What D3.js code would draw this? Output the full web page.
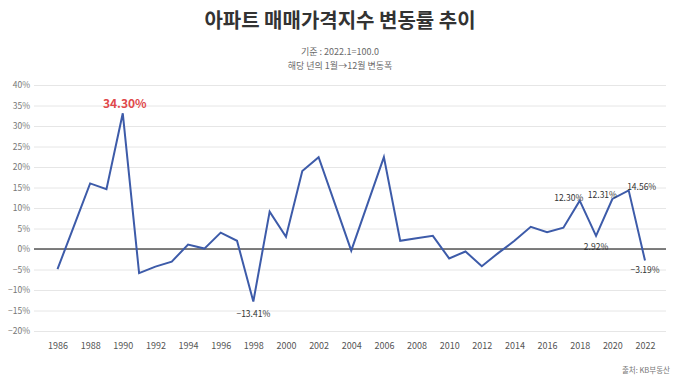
<!DOCTYPE html>
<html>
<head>
<meta charset="utf-8">
<script src="https://cdn.jsdelivr.net/npm/d3@7"></script>
<style>
  html, body { margin: 0; padding: 0; background: #fff; }
  svg { display: block; }
</style>
</head>
<body>
<svg id="chart" width="680" height="386"></svg>
<script>
const years = d3.range(1986, 2023);
const values = [
  -4.9, 5.5, 16.0, 14.6, 33.1, -5.9, -4.3, -3.1, 1.1, 0.1,
  4.0, 2.0, -12.8, 9.1, 3.0, 19.0, 22.4, 11.0, -0.4, 11.0,
  22.4, 2.0, 2.6, 3.2, -2.3, -0.6, -4.2, -1.0, 2.0, 5.4,
  4.1, 5.2, 11.8, 3.2, 12.2, 14.3, -2.8
];
const yTicks = [-20, -15, -10, -5, 0, 5, 10, 15, 20, 25, 30, 35, 40];
const xTicks = d3.range(1986, 2023, 2);
const annoYears = [1990, 1998, 2018, 2019, 2020, 2021, 2022];
const annoTexts = ["34.30%", "−13.41%", "12.30%", "2.92%", "12.31%", "14.56%", "−3.19%"];
const titleText = "아파트 매매가격지수 변동률 추이";
const subLines = ["기준 : 2022.1=100.0", "해당 년의 1월→12월 변동폭"];
const sourceText = "출처: KB부동산";

const FONT = "'Noto Sans CJK KR', 'Noto Sans', sans-serif";
const svg = d3.select("#chart");

const x = d3.scaleLinear().domain([1986, 2022]).range([57.5, 645]);
const y = d3.scaleLinear().domain([-20, 40]).range([331, 85]);

// title
svg.append("text").attr("x", 340).attr("y", 28).attr("text-anchor", "middle")
  .attr("font-family", FONT).attr("font-weight", 700).attr("font-size", 20)
  .attr("fill", "#333").text(titleText);
svg.selectAll("text.sub").data(subLines).enter().append("text")
  .attr("class", "sub").attr("x", 340).attr("y", (d, i) => 55 + i * 13.5)
  .attr("text-anchor", "middle").attr("font-family", FONT).attr("font-size", 9)
  .attr("fill", "#6a6a6a").text(d => d);

// grid + y axis
const yAxis = d3.axisLeft(y).tickValues(yTicks).tickSize(-632).tickFormat(d => d + "%");
const gy = svg.append("g").attr("transform", "translate(34,0)").call(yAxis);
gy.select(".domain").remove();
gy.selectAll(".tick line").attr("stroke", "#e6e6e6").attr("stroke-width", 1);
gy.selectAll(".tick text").attr("x", -4).attr("font-family", FONT).attr("font-size", 8.5)
  .attr("fill", "#777").text(d => (d < 0 ? "−" + Math.abs(d) : d) + "%");

// zero line
svg.append("line").attr("x1", 34).attr("x2", 666).attr("y1", y(0)).attr("y2", y(0))
  .attr("stroke", "#555").attr("stroke-width", 1.3);

// x axis
const xAxis = d3.axisBottom(x).tickValues(xTicks).tickSize(0).tickFormat(d3.format("d"));
const gx = svg.append("g").attr("transform", "translate(0,340)").call(xAxis);
gx.select(".domain").remove();
gx.selectAll(".tick text").attr("font-family", FONT).attr("font-size", 9)
  .attr("fill", "#555");

// line
const data = years.map((yr, i) => ({ year: yr, value: values[i] }));
const line = d3.line().x(d => x(d.year)).y(d => y(d.value));
svg.append("path").datum(data).attr("d", line).attr("fill", "none")
  .attr("stroke", "#3d5ba9").attr("stroke-width", 2).attr("stroke-linejoin", "miter");

// annotations
const offsets = {
  1990: [2, -5], 1998: [0, 13], 2018: [-11, -3], 2019: [0, 11],
  2020: [-10, -4], 2021: [13, -3], 2022: [0, 10]
};
annoYears.forEach((yr, i) => {
  const v = values[years.indexOf(yr)];
  const o = offsets[yr];
  const main = yr === 1990;
  svg.append("text")
    .attr("x", x(yr) + o[0]).attr("y", y(v) + o[1] + (main ? 0 : 3))
    .attr("text-anchor", "middle").attr("font-family", FONT)
    .attr("font-size", main ? 12 : 8.5).attr("font-weight", main ? 700 : 400)
    .attr("fill", main ? "#e0484b" : "#333").text(annoTexts[i]);
});

// source
svg.append("text").attr("x", 670).attr("y", 373).attr("text-anchor", "end")
  .attr("font-family", FONT).attr("font-size", 7.5).attr("fill", "#777").text(sourceText);
</script>
</body>
</html>
